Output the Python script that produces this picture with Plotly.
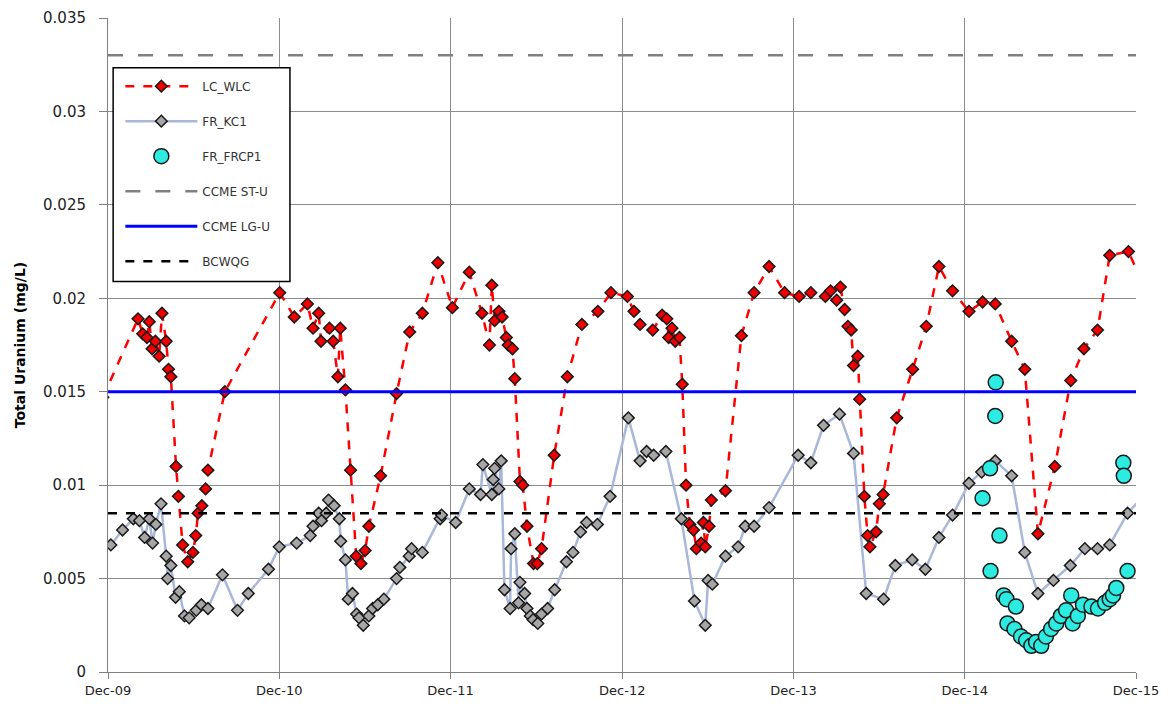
import plotly.graph_objects as go

# ---------------- data ----------------
lc_wlc_dates = [
    "2009-11-20", "2010-02-03", "2010-02-13", "2010-02-22", "2010-02-27", "2010-03-05", "2010-03-12",
    "2010-03-20", "2010-03-26", "2010-04-04", "2010-04-09", "2010-04-14", "2010-04-25", "2010-04-30",
    "2010-05-09", "2010-05-20", "2010-05-31", "2010-06-06", "2010-06-11", "2010-06-19", "2010-06-27",
    "2010-07-02", "2010-08-07", "2010-12-02",
    "2011-01-02", "2011-01-30", "2011-02-11", "2011-02-23", "2011-02-28", "2011-03-18", "2011-03-26",
    "2011-04-05", "2011-04-10", "2011-04-21", "2011-05-02", "2011-05-14", "2011-05-24", "2011-06-02",
    "2011-06-10", "2011-07-05", "2011-08-08", "2011-09-05", "2011-10-02", "2011-11-04", "2011-12-05",
    "2012-01-10", "2012-02-06", "2012-02-22", "2012-02-27", "2012-03-04", "2012-03-13", "2012-03-20",
    "2012-03-29", "2012-04-02", "2012-04-11", "2012-04-16", "2012-04-27", "2012-05-03", "2012-05-12",
    "2012-05-26", "2012-06-03", "2012-06-12", "2012-07-09", "2012-08-06", "2012-09-06", "2012-10-10",
    "2012-11-07", "2012-12-12", "2012-12-26",
    "2013-01-08", "2013-02-04", "2013-02-24", "2013-03-06", "2013-03-10", "2013-03-17", "2013-03-24",
    "2013-04-02", "2013-04-08", "2013-04-16", "2013-04-24", "2013-05-02", "2013-05-08", "2013-05-18",
    "2013-05-23", "2013-05-27", "2013-06-04", "2013-06-09", "2013-07-09", "2013-08-12", "2013-09-08",
    "2013-10-10", "2013-11-12", "2013-12-13",
    "2014-01-07", "2014-02-07", "2014-02-18", "2014-03-03", "2014-03-11", "2014-03-20", "2014-03-27",
    "2014-04-03", "2014-04-08", "2014-04-17", "2014-04-21", "2014-05-01", "2014-05-08", "2014-05-13",
    "2014-05-26", "2014-06-02", "2014-06-10", "2014-07-09", "2014-08-12", "2014-09-10", "2014-10-07",
    "2014-11-05", "2014-12-10",
    "2015-01-08", "2015-02-04", "2015-03-11", "2015-04-08", "2015-05-06", "2015-06-11", "2015-07-15",
    "2015-08-12", "2015-09-10", "2015-10-06", "2015-11-15", "2015-12-20",
]
lc_wlc_values = [
    0.0147, 0.0189, 0.0181, 0.0179, 0.01875, 0.0173, 0.0177,
    0.0169, 0.0192, 0.0177, 0.0162, 0.0158, 0.0110, 0.0094,
    0.0068, 0.0059, 0.0064, 0.0073, 0.0085, 0.0089, 0.0098,
    0.0108, 0.0150, 0.0203,
    0.0190, 0.0197, 0.0184, 0.0192, 0.0177, 0.0184, 0.0177,
    0.0158, 0.0184, 0.0151, 0.0108, 0.0062, 0.0058, 0.0065,
    0.0078, 0.0105, 0.0149, 0.0182, 0.0192, 0.0219, 0.0195,
    0.0214, 0.0192, 0.0175, 0.0207, 0.0188, 0.0193, 0.0190,
    0.0179, 0.0175, 0.0173, 0.0157, 0.0102, 0.0100, 0.0078,
    0.0058, 0.0058, 0.0066, 0.0116, 0.0158, 0.0186, 0.0193,
    0.0203, 0.0201, 0.0193,
    0.0186, 0.0183, 0.0191, 0.0189, 0.0179, 0.0184, 0.0177,
    0.0179, 0.0154, 0.0100, 0.0079, 0.0076, 0.0066, 0.0069,
    0.0080, 0.0067, 0.0078, 0.0092, 0.0097, 0.0180, 0.0203,
    0.0217, 0.0203, 0.0201,
    0.0203, 0.0201, 0.0204, 0.0199, 0.0206, 0.0194, 0.0185,
    0.0183, 0.0164, 0.0169, 0.0146, 0.0094, 0.0073, 0.0067,
    0.0075, 0.0090, 0.0095, 0.0136, 0.0162, 0.0185, 0.0217,
    0.0204, 0.0193,
    0.0198, 0.0197, 0.0177, 0.0162, 0.0074, 0.0110, 0.0156,
    0.0173, 0.0183, 0.0223, 0.0225, 0.0205,
]

fr_kc1_dates = [
    "2009-12-07", "2010-01-01", "2010-01-24", "2010-02-06", "2010-02-17", "2010-02-27", "2010-03-06",
    "2010-03-13", "2010-03-24", "2010-04-04", "2010-04-07", "2010-04-14", "2010-04-24", "2010-05-02",
    "2010-05-13", "2010-05-23", "2010-06-07", "2010-06-18", "2010-07-02", "2010-08-02", "2010-09-03",
    "2010-09-26", "2010-11-08", "2010-12-01",
    "2011-01-07", "2011-02-05", "2011-02-11", "2011-02-23", "2011-03-01", "2011-03-11", "2011-03-16",
    "2011-03-28", "2011-04-08", "2011-04-11", "2011-04-21", "2011-04-27", "2011-05-06", "2011-05-15",
    "2011-05-20", "2011-05-29", "2011-06-10", "2011-06-18", "2011-06-29", "2011-07-12", "2011-08-08",
    "2011-08-15", "2011-09-04", "2011-09-09", "2011-10-02", "2011-11-09", "2011-11-12", "2011-12-12",
    "2012-01-10", "2012-02-03", "2012-02-08", "2012-02-27", "2012-03-01", "2012-03-04", "2012-03-13",
    "2012-03-18", "2012-03-25", "2012-04-06", "2012-04-08", "2012-04-16", "2012-04-24", "2012-04-27",
    "2012-05-07", "2012-05-12", "2012-05-19", "2012-05-25", "2012-06-04", "2012-06-12", "2012-06-25",
    "2012-07-10", "2012-08-04", "2012-08-18", "2012-09-03", "2012-09-16", "2012-10-09", "2012-11-05",
    "2012-12-14",
    "2013-01-08", "2013-01-22", "2013-02-06", "2013-03-04", "2013-04-06", "2013-05-04", "2013-05-27",
    "2013-06-02", "2013-06-11", "2013-07-09", "2013-08-05", "2013-08-20", "2013-09-08", "2013-10-10",
    "2013-12-11",
    "2014-01-07", "2014-02-03", "2014-03-09", "2014-04-08", "2014-05-05", "2014-06-11", "2014-07-06",
    "2014-08-11", "2014-09-08", "2014-10-07", "2014-11-05", "2014-12-10",
    "2015-01-06", "2015-02-04", "2015-03-11", "2015-04-08", "2015-05-06", "2015-06-08", "2015-07-14",
    "2015-08-14", "2015-09-10", "2015-10-06", "2015-11-13", "2015-12-20",
]
fr_kc1_values = [
    0.0068, 0.0076, 0.0082, 0.0081, 0.0072, 0.0082, 0.0069,
    0.0079, 0.0090, 0.0062, 0.0050, 0.0057, 0.0040, 0.0043,
    0.0030, 0.0029, 0.0033, 0.0036, 0.0034, 0.0052, 0.0033,
    0.0042, 0.0055, 0.0067,
    0.0069, 0.0073, 0.0078, 0.0085, 0.0081, 0.0085, 0.0092,
    0.0089, 0.0082, 0.0070, 0.0060, 0.0039, 0.0042, 0.0031,
    0.0029, 0.0025, 0.0030, 0.0034, 0.0036, 0.0039, 0.0050,
    0.0056, 0.0062, 0.0066, 0.0064, 0.0082, 0.0084, 0.0080,
    0.0098, 0.0095, 0.0111, 0.0095, 0.0103, 0.0109, 0.0098,
    0.0113, 0.0044, 0.0034, 0.0066, 0.0074, 0.0037, 0.0048,
    0.0042, 0.0034, 0.0030, 0.0028, 0.0026, 0.0031, 0.0034,
    0.0044, 0.0059, 0.0064, 0.0075, 0.0080, 0.0079, 0.0094,
    0.0136,
    0.0113, 0.0118, 0.0116, 0.0118, 0.0082, 0.0038, 0.0025,
    0.0049, 0.0047, 0.0062, 0.0067, 0.0078, 0.0078, 0.0088,
    0.0116,
    0.0112, 0.0132, 0.0138, 0.0117, 0.0042, 0.0039, 0.0057,
    0.0060, 0.0055, 0.0072, 0.0084, 0.0101,
    0.0107, 0.0113, 0.0105, 0.0064, 0.0042, 0.0049, 0.0057,
    0.0066, 0.0066, 0.0068, 0.0085, 0.0095,
]

fr_frcp1_dates = [
    "2015-01-08", "2015-01-24", "2015-01-25", "2015-02-04", "2015-02-05", "2015-02-13", "2015-02-22",
    "2015-02-28", "2015-03-02", "2015-03-17", "2015-03-20", "2015-03-31", "2015-04-11", "2015-04-22",
    "2015-05-02", "2015-05-13", "2015-05-23", "2015-06-03", "2015-06-14", "2015-06-24", "2015-07-05",
    "2015-07-16", "2015-07-19", "2015-07-30", "2015-08-10", "2015-08-28", "2015-09-11", "2015-09-26",
    "2015-10-06", "2015-10-13", "2015-10-20", "2015-11-04", "2015-11-05", "2015-11-13",
]
fr_frcp1_values = [
    0.0093, 0.0109, 0.0054, 0.0137, 0.0155, 0.0073, 0.0041,
    0.0039, 0.0026, 0.0023, 0.0035, 0.0019, 0.0017, 0.0014,
    0.0016, 0.0014, 0.0019, 0.0023, 0.0026, 0.0030, 0.0033,
    0.0041, 0.0026, 0.0030, 0.0036, 0.0035, 0.0034, 0.0037,
    0.0039, 0.0041, 0.0045, 0.0112, 0.0105, 0.0054,
]

guide_dates = ["2009-12-01", "2015-12-01"]
ccme_st_u = 0.033
ccme_lg_u = 0.015
bcwqg = 0.0085

y_ticks = [0, 0.005, 0.01, 0.015, 0.02, 0.025, 0.03, 0.035]
x_ticks = ["2009-12-01", "2010-12-01", "2011-12-01", "2012-12-01",
           "2013-12-01", "2014-12-01", "2015-12-01"]
x_tick_labels = ["Dec-09", "Dec-10", "Dec-11", "Dec-12", "Dec-13", "Dec-14", "Dec-15"]

# ---------------- figure ----------------
fig = go.Figure()

fig.add_trace(go.Scatter(
    x=fr_kc1_dates, y=fr_kc1_values, name="FR_KC1", mode="lines+markers",
    line=dict(color="#A9B7D9", width=2.5),
    marker=dict(symbol="diamond", size=9, color="#A6A6A6",
                line=dict(color="#1a1a1a", width=1.5)),
    legendrank=2, legendgroup="b",
))
fig.add_trace(go.Scatter(
    x=lc_wlc_dates, y=lc_wlc_values, name="LC_WLC", mode="lines+markers",
    line=dict(color="#FF0000", width=2.5, dash="dash"),
    marker=dict(symbol="diamond", size=9, color="#F00000",
                line=dict(color="#1a1a1a", width=1.5)),
    legendrank=1, legendgroup="a",
))
fig.add_trace(go.Scatter(
    x=fr_frcp1_dates, y=fr_frcp1_values, name="FR_FRCP1", mode="markers",
    marker=dict(symbol="circle", size=15, color="#2CEBE0",
                line=dict(color="#1a1a1a", width=1.5)),
    legendrank=3, legendgroup="c",
))
fig.add_trace(go.Scatter(
    x=guide_dates, y=[ccme_st_u, ccme_st_u], name="CCME ST-U", mode="lines",
    line=dict(color="#808080", width=2.5, dash="longdash"),
    legendrank=4, legendgroup="d",
))
fig.add_trace(go.Scatter(
    x=guide_dates, y=[ccme_lg_u, ccme_lg_u], name="CCME LG-U", mode="lines",
    line=dict(color="#0000FF", width=3),
    legendrank=5, legendgroup="e",
))
fig.add_trace(go.Scatter(
    x=guide_dates, y=[bcwqg, bcwqg], name="BCWQG", mode="lines",
    line=dict(color="#000000", width=2.5, dash="dash"),
    legendrank=6, legendgroup="f",
))

# legend frame drawn as a shape (paper coords)
fig.add_shape(type="rect", xref="paper", yref="paper",
              x0=0.005, x1=0.177, y0=0.597, y1=0.924,
              line=dict(color="#000000", width=1.5), fillcolor="white", layer="above")

fig.update_layout(
    width=1166, height=700,
    margin=dict(l=100, r=38, t=10, b=36),
    paper_bgcolor="white", plot_bgcolor="white",
    font=dict(family="DejaVu Sans", size=13, color="#222222"),
    showlegend=True,
    legend=dict(
        x=0.012, y=0.918, xanchor="left", yanchor="top",
        bgcolor="rgba(0,0,0,0)", borderwidth=0,
        font=dict(family="DejaVu Sans", size=12, color="#333333"),
        tracegroupgap=16, traceorder="grouped", itemwidth=72,
    ),
)
fig.update_xaxes(
    type="date", range=["2009-12-01", "2015-12-01"],
    tickvals=x_ticks, ticktext=x_tick_labels,
    showgrid=True, gridcolor="#8c8c8c", gridwidth=1,
    showline=True, linecolor="#7f7f7f", linewidth=1,
    ticks="outside", ticklen=6, tickcolor="#7f7f7f",
    tickfont=dict(family="DejaVu Sans", size=13, color="#222222"),
    zeroline=False, automargin=False,
)
fig.update_yaxes(
    range=[0, 0.035], tickvals=y_ticks,
    ticktext=[("%g" % v) for v in y_ticks],
    showgrid=True, gridcolor="#8c8c8c", gridwidth=1,
    showline=True, linecolor="#7f7f7f", linewidth=1,
    ticks="outside", ticklen=8, tickcolor="#7f7f7f",
    ticklabelstandoff=10,
    tickfont=dict(family="DejaVu Sans", size=15, color="#222222"),
    title=dict(text="<b>Total Uranium (mg/L)</b>",
               font=dict(family="DejaVu Sans", size=14, color="#000000"), standoff=14),
    zeroline=False, automargin=False,
)

fig.write_html("out.html")
